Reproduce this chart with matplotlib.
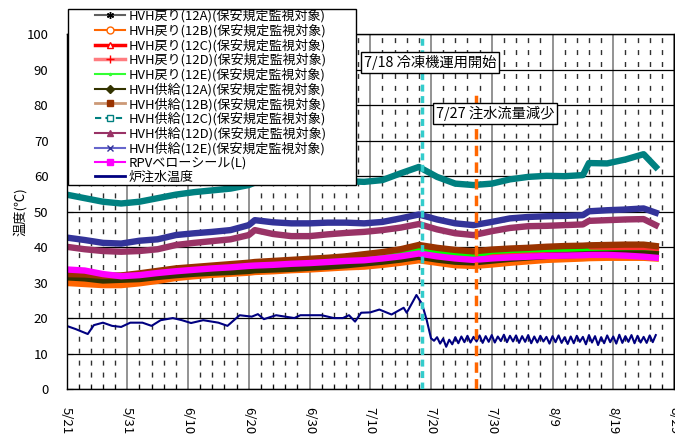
import numpy as np
import matplotlib
matplotlib.use('Agg')
import matplotlib.pyplot as plt
from matplotlib.lines import Line2D
from matplotlib.patches import Rectangle

plt.rcParams['font.family'] = ['Noto Sans CJK JP', 'DejaVu Sans']

# x axis: days since 5/21
tick_days = [0, 10, 20, 30, 40, 50, 60, 70, 80, 90, 100]
tick_labels = ['5/21', '5/31', '6/10', '6/20', '6/30', '7/10', '7/20', '7/30', '8/9', '8/19', '8/29']

days = [0, 3, 6, 9, 12, 15, 18, 21, 24, 27, 30, 31, 34, 37, 40, 43, 46, 49, 52, 55,
        58, 61, 64, 67, 70, 73, 76, 79, 82, 85, 86, 89, 92, 95, 97]

# HVH supply
sup_12a = [31.5, 31.2, 30.6, 30.8, 31.0, 31.6, 32.1, 32.5, 32.8, 33.0, 33.3, 33.5, 33.7, 33.9, 34.2,
           34.5, 34.9, 35.4, 35.9, 36.5, 37.3, 36.5, 35.9, 35.7, 36.2, 36.7, 37.1, 37.5, 37.7, 37.9,
           38.0, 38.1, 38.2, 38.2, 38.0]
sup_12b = [32.4, 32.3, 31.9, 32.0, 32.6, 33.3, 34.0, 34.4, 34.8, 35.2, 35.6, 35.8, 36.1, 36.4, 36.7,
           37.0, 37.4, 38.0, 38.6, 39.4, 40.6, 39.8, 39.2, 38.8, 39.3, 39.6, 39.8, 40.1, 40.3, 40.4,
           40.5, 40.6, 40.7, 40.7, 40.3]
sup_12c = [54.8, 53.8, 52.8, 52.3, 52.8, 53.8, 54.8, 55.5, 56.0, 56.5, 57.5, 58.2, 58.5, 58.7, 58.8,
           58.9, 58.6, 58.4, 58.9, 60.8, 62.6, 59.8, 57.9, 57.5, 57.9, 59.1, 59.8, 60.1, 60.0, 60.3,
           63.7, 63.6, 64.7, 66.2, 62.6]
sup_12d = [40.1, 39.4, 38.9, 38.7, 38.9, 39.4, 40.6, 41.2, 41.7, 42.2, 43.4, 44.8, 43.7, 43.1, 43.1,
           43.6, 44.0, 44.3, 44.8, 45.5, 46.5, 45.0, 43.9, 43.4, 44.5, 45.4, 45.9, 46.0, 46.2, 46.4,
           47.4, 47.6, 47.8, 47.9, 46.2]
sup_12e = [42.7, 42.0, 41.2, 41.0, 41.8, 42.2, 43.4, 43.9, 44.3, 44.8, 46.2, 47.6, 47.0, 46.7, 46.7,
           46.9, 46.9, 46.7, 47.1, 48.1, 49.2, 47.8, 46.7, 46.2, 47.1, 48.1, 48.5, 48.7, 48.8, 49.0,
           50.1, 50.4, 50.6, 50.9, 49.7]

# HVH return
ret_12a = [32.0, 31.8, 31.3, 31.4, 31.8, 32.4, 33.0, 33.4, 33.8, 34.1, 34.5, 34.7, 35.0, 35.3, 35.6,
           35.9, 36.3, 36.8, 37.3, 38.0, 39.0, 38.2, 37.6, 37.2, 37.7, 38.1, 38.4, 38.6, 38.8, 39.2,
           39.6, 39.8, 39.9, 39.8, 39.4]
ret_12b = [29.9, 29.6, 29.3, 29.3, 29.8, 30.5, 31.3, 31.8, 32.2, 32.5, 32.8, 33.0, 33.2, 33.5, 33.7,
           34.0, 34.3, 34.5, 35.0, 35.6, 36.3, 35.6, 34.9, 34.7, 35.1, 35.6, 36.0, 36.4, 36.6, 36.8,
           36.9, 37.0, 37.0, 37.0, 36.8]
ret_12c = [32.2, 32.0, 31.5, 31.6, 32.0, 32.6, 33.2, 33.6, 34.0, 34.3, 34.7, 34.9, 35.2, 35.5, 35.8,
           36.1, 36.5, 37.0, 37.5, 38.2, 39.2, 38.4, 37.8, 37.4, 37.9, 38.3, 38.5, 38.7, 38.9, 39.1,
           39.3, 39.4, 39.5, 39.5, 39.2]
ret_12d = [32.1, 31.9, 31.4, 31.5, 31.9, 32.5, 33.1, 33.5, 33.9, 34.2, 34.6, 34.8, 35.1, 35.4, 35.7,
           36.0, 36.4, 36.9, 37.4, 38.1, 39.1, 38.3, 37.7, 37.3, 37.8, 38.2, 38.4, 38.6, 38.8, 39.0,
           39.1, 39.2, 39.3, 39.3, 39.0]
ret_12e = [32.6, 32.4, 31.9, 31.9, 32.3, 32.9, 33.5, 33.9, 34.3, 34.6, 35.0, 35.2, 35.5, 35.8, 36.1,
           36.4, 36.8, 37.2, 37.7, 38.4, 39.4, 38.6, 38.0, 37.6, 38.9, 39.2, 39.4, 39.5, 39.6, 39.6,
           38.4, 38.3, 38.3, 38.2, 38.0]

rpv_seal = [33.7, 33.4, 32.4, 31.8, 32.1, 32.7, 33.2, 33.6, 34.0, 34.3, 34.7, 34.8, 35.0, 35.3, 35.5,
            35.8, 36.1, 36.3, 36.8, 37.4, 38.2, 37.4, 36.8, 36.4, 36.8, 37.1, 37.3, 37.5, 37.6, 37.7,
            37.8, 37.8, 37.6, 37.3, 37.0]

# injection water temperature
inj_days_pre = [0, 1.5, 3.5, 4.5, 6, 7.5, 9, 10.5, 12.5, 14, 15.5, 17.5, 19, 20.5, 22.5, 25, 26.5,
                28.5, 30.5, 31.5, 32.5, 34.5, 37.5, 38.5, 42, 44, 45.5, 46.5, 47.5, 48.5, 50, 51.5,
                53.5, 55.5, 56, 57, 57.6, 58.1, 58.5, 59.3]
inj_pre = [17.8, 16.9, 15.5, 18.0, 18.7, 17.8, 17.5, 18.7, 18.7, 17.8, 19.4, 20.0, 19.4, 18.6, 19.4,
           18.7, 17.8, 20.8, 20.4, 21.1, 19.7, 20.8, 20.0, 20.8, 20.8, 20.0, 20.0, 20.8, 19.0, 21.5,
           21.6, 22.4, 21.0, 22.9, 21.5, 24.6, 26.5, 25.1, 24.1, 19.4]
inj_post = [14.3, 13.6, 14.6, 12.8, 14.2, 11.9, 13.9, 12.6, 14.6, 12.9, 14.8, 13.2, 15.0, 13.1, 14.7,
            13.4, 15.1, 13.0, 14.9, 13.3, 15.2, 13.1, 14.8, 13.5, 15.3, 13.2, 15.0, 13.4, 15.1, 13.0,
            14.9, 13.3, 15.2, 12.9, 14.8, 13.1, 15.0, 13.4, 14.7, 12.8, 14.9, 13.2, 15.1, 13.0, 14.6,
            12.7, 14.8, 12.9, 15.0, 13.3, 14.7, 12.6, 15.2, 13.1, 14.9, 12.4, 14.6, 12.9, 15.1, 13.2,
            14.8, 12.8, 15.3, 13.0, 14.9, 13.3, 15.2, 12.9, 15.0, 13.1, 14.7, 13.0, 15.1, 13.2, 15.2]
inj_days_post = 60 + 0.5 * np.arange(len(inj_post))
inj_days = list(inj_days_pre) + list(inj_days_post)
inj_temp = inj_pre + inj_post

event_days = [58.5, 67.4]
event_texts = ['7/18 冷凍機運用開始', '7/27 注水流量減少']

labels = ['HVH戻り(12A)(保安規定監視対象)', 'HVH戻り(12B)(保安規定監視対象)',
          'HVH戻り(12C)(保安規定監視対象)', 'HVH戻り(12D)(保安規定監視対象)',
          'HVH戻り(12E)(保安規定監視対象)', 'HVH供給(12A)(保安規定監視対象)',
          'HVH供給(12B)(保安規定監視対象)', 'HVH供給(12C)(保安規定監視対象)',
          'HVH供給(12D)(保安規定監視対象)', 'HVH供給(12E)(保安規定監視対象)',
          'RPVベローシール(L)', '炉注水温度']

fig = plt.figure(figsize=(6.75, 4.38), dpi=100)
ax = fig.add_axes([66.5 / 675, 1 - 389 / 438, 607.5 / 675, 354.7 / 438])

# grid
ax.set_xlim(0, 100)
ax.set_ylim(0, 100)
ax.set_xticks(tick_days)
ax.set_xticks(np.arange(0, 101, 2), minor=True)
ax.set_yticks(np.arange(0, 101, 10))
ax.grid(axis='x', which='major', color='#808080', lw=1.2, zorder=1)
ax.grid(axis='x', which='minor', color='#303030', lw=1.0, linestyle=(0, (3.6, 5.0)), zorder=1)
ax.grid(axis='y', which='major', color='black', lw=0.9, zorder=1)

lw = 4.6
ax.plot(days, ret_12a, color='black', lw=lw, zorder=2)
ax.plot(days, ret_12b, color='#FF6600', lw=lw, zorder=2)
ax.plot(days, ret_12c, color='#FF0000', lw=lw, zorder=2)
ax.plot(days, ret_12d, color='#FF3030', lw=lw, zorder=2)
ax.plot(days, ret_12e, color='#00FF00', lw=lw, zorder=2)
ax.plot(days, sup_12a, color='#333300', lw=lw, zorder=2)
ax.plot(days, sup_12b, color='#993300', lw=lw, zorder=2)
ax.plot(days, sup_12c, color='#008080', lw=lw, zorder=2)
ax.plot(days, sup_12d, color='#993366', lw=lw, zorder=2)
ax.plot(days, sup_12e, color='#333399', lw=lw, zorder=2)
ax.plot(days, rpv_seal, color='#FF00FF', lw=lw, zorder=2)
ax.plot(inj_days, inj_temp, color='#000080', lw=1.5, zorder=2)

# events
ax.plot([event_days[0]] * 2, [0, 100], color='#33CCCC', lw=2.5, linestyle=(0, (2.0, 1.3)), zorder=3)
ax.plot([event_days[1]] * 2, [0, 84], color='#FF6600', lw=2.5, linestyle=(0, (3.0, 1.8)), zorder=3)
box = dict(boxstyle='square,pad=0.2', fc='white', ec='black', lw=1)
ax.text(48.9, 92.1, event_texts[0], fontsize=10.3, ha='left', va='center', bbox=box, zorder=4)
ax.text(60.8, 77.7, event_texts[1], fontsize=10.3, ha='left', va='center', bbox=box, zorder=4)

ax.set_xticklabels(tick_labels, rotation=-90, fontsize=9.5, va='top', ha='center')
ax.tick_params(axis='x', which='both', direction='in', pad=13, length=3)
ax.tick_params(axis='x', which='major', length=0)
ax.tick_params(axis='y', direction='in', length=4, pad=13, labelsize=9.5)
for s in ax.spines.values():
    s.set_color('black')
    s.set_linewidth(1)
ax.set_ylabel('温度(℃)', fontsize=9.5, labelpad=0)

# legend
handles = [
    Line2D([], [], color='#606060', lw=1.5, marker=(6, 2, 0), mec='black', ms=5),
    Line2D([], [], color='#FF6600', lw=1.5, marker='o', mfc='white', mec='#FF6600', ms=5),
    Line2D([], [], color='#FF0000', lw=2.5, marker='^', mfc='white', mec='#FF0000', ms=5),
    Line2D([], [], color='#FF7C80', lw=2.5, marker='+', mec='#FF0000', ms=6),
    Line2D([], [], color='#33FF33', lw=1.5, marker='.', ms=3),
    Line2D([], [], color='#333300', lw=1.5, marker='D', mfc='#333300', mec='#333300', ms=4),
    Line2D([], [], color='#CC9977', lw=2.0, marker='s', mfc='#993300', mec='#993300', ms=5),
    Line2D([], [], color='#008080', lw=1.5, linestyle=(0, (3, 2)), marker='s', mfc='white', mec='#008080', ms=5),
    Line2D([], [], color='#993366', lw=1.5, marker='^', mfc='#993366', mec='#993366', ms=5),
    Line2D([], [], color='#6666CC', lw=1.5, marker='x', mec='#333399', ms=5),
    Line2D([], [], color='#FF00FF', lw=1.5, marker='s', mfc='#FF00FF', mec='#FF00FF', ms=5),
    Line2D([], [], color='#000080', lw=2.0),
]
fig.patches.append(Rectangle((68 / 675, 1 - 185 / 438), 288 / 675, 176 / 438,
                             transform=fig.transFigure, fc='white', ec='black', lw=1, zorder=3))
fig.legend(handles, labels, loc='upper left', bbox_to_anchor=(95 / 675, 1 - 9.5 / 438),
           frameon=False, fontsize=9.4, borderpad=0, borderaxespad=0, handlelength=2.3,
           handletextpad=0.3, labelspacing=0.09)

fig.savefig('out.png', dpi=100)
